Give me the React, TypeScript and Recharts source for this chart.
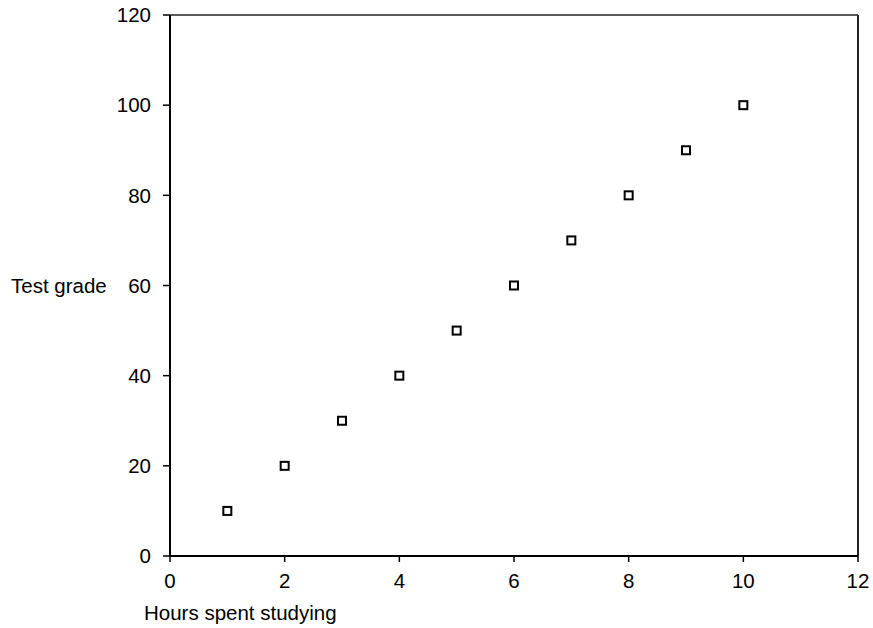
import React from "react";
import { ScatterChart, Scatter, XAxis, YAxis, ReferenceLine } from "recharts";

const hours = [1, 2, 3, 4, 5, 6, 7, 8, 9, 10];
const grades = [10, 20, 30, 40, 50, 60, 70, 80, 90, 100];
const xTicks = [0, 2, 4, 6, 8, 10, 12];
const yTicks = [0, 20, 40, 60, 80, 100, 120];

const data = hours.map((h, i) => ({ hours: h, grade: grades[i] }));

const FONT = "'Liberation Sans', Arial, Helvetica, sans-serif";
const FS = 20.5;

const SquareMarker = (props: any) => {
  const { cx, cy } = props;
  const s = 8;
  return (
    <rect
      x={cx - s / 2}
      y={cy - s / 2}
      width={s}
      height={s}
      fill="#fff"
      stroke="#000"
      strokeWidth={2}
    />
  );
};

const XLabel = (props: any) => {
  const vb = props.viewBox || {};
  return (
    <text
      x={vb.x - 26}
      y={vb.y + 64}
      fontFamily={FONT}
      fontSize={FS}
      fill="#000"
    >
      Hours spent studying
    </text>
  );
};

export default function App() {
  return (
    <div style={{ position: "absolute", left: 0, top: 0 }}>
      <ScatterChart
        width={873}
        height={628}
        margin={{ top: 15, right: 15, bottom: 12, left: 0 }}
        style={{ fontFamily: FONT }}
      >
        <XAxis
          type="number"
          dataKey="hours"
          domain={[0, 12]}
          ticks={xTicks}
          height={60}
          tickSize={6}
          tickMargin={11}
          axisLine={{ stroke: "#000", strokeWidth: 2 }}
          tickLine={{ stroke: "#000", strokeWidth: 1.5 }}
          tick={{ fill: "#000", fontSize: FS, fontFamily: FONT }}
          label={{ content: XLabel }}
        />
        <YAxis
          type="number"
          dataKey="grade"
          domain={[0, 120]}
          ticks={yTicks}
          width={170}
          tickSize={7}
          tickMargin={12}
          axisLine={{ stroke: "#000", strokeWidth: 2 }}
          tickLine={{ stroke: "#000", strokeWidth: 1.5 }}
          tick={{ fill: "#000", fontSize: FS, fontFamily: FONT }}
          label={{
            value: "Test grade",
            position: "insideLeft",
            offset: 11,
            fill: "#000",
            fontSize: FS,
            fontFamily: FONT,
          }}
        />
        <ReferenceLine y={120} stroke="#222" strokeWidth={1.5} ifOverflow="visible" />
        <ReferenceLine x={12} stroke="#222" strokeWidth={2} ifOverflow="visible" />
        <Scatter data={data} shape={SquareMarker} isAnimationActive={false} />
      </ScatterChart>
    </div>
  );
}
